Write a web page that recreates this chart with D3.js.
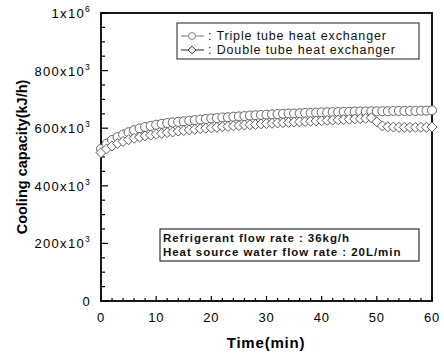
<!DOCTYPE html>
<html>
<head>
<meta charset="utf-8">
<script src="https://cdn.jsdelivr.net/npm/d3@7"></script>
<style>
  body { margin: 0; background: #fff; }
  svg { display: block; font-family: "Liberation Sans", Arial, sans-serif; }
</style>
</head>
<body>
<svg id="chart" width="444" height="355"></svg>
<script>
// minutes
const times = d3.range(0, 61);

// cooling capacity, x10^3 kJ/h
const tripleTube = [528, 546, 559, 569, 578, 586, 593, 599, 604, 608,
    612, 615, 618, 620, 622, 624, 626, 628, 630, 632,
    634, 635, 637, 638, 640, 641, 642, 644, 645, 646,
    647, 648, 649, 650, 651, 651, 652, 653, 653, 654,
    655, 655, 656, 656, 657, 657, 658, 658, 658, 659,
    659, 659, 659, 660, 660, 660, 660, 660, 661, 661, 662];

const doubleTube = [515, 528, 538, 547, 554, 560, 565, 569, 573, 576,
    579, 582, 585, 587, 590, 592, 594, 596, 598, 600,
    601, 603, 605, 606, 608, 609, 611, 612, 613, 615,
    616, 617, 618, 619, 620, 621, 622, 623, 624, 625,
    626, 627, 628, 629, 630, 631, 632, 633, 634, 636,
    622, 608, 605, 604, 603, 603, 603, 603, 603, 603, 604];

const xTicks = [0, 10, 20, 30, 40, 50, 60];
const yTicks = [0, 200, 400, 600, 800, 1000];
const yTickLabels = ["0", "200x10|3", "400x10|3", "600x10|3", "800x10|3", "1x10|6"];

const legendLabels = [": Triple tube heat exchanger", ": Double tube heat exchanger"];
const noteLines = ["Refrigerant flow rate : 36kg/h", "Heat source water flow rate : 20L/min"];

const svg = d3.select("#chart");
const mLeft = 101, mRight = 432, mTop = 13, mBottom = 301;

const x = d3.scaleLinear().domain([0, 60]).range([mLeft, mRight]);
const y = d3.scaleLinear().domain([0, 1000]).range([mBottom, mTop]);

// ticks (inward)
const tickG = svg.append("g").attr("stroke", "#000");
d3.range(0, 1001, 50).forEach(v => {
    const major = v % 200 === 0;
    tickG.append("line")
        .attr("x1", mLeft).attr("x2", mLeft + (major ? 7 : 4))
        .attr("y1", y(v)).attr("y2", y(v))
        .attr("stroke-width", 1.2);
});
d3.range(0, 61, 2).forEach(v => {
    const major = v % 10 === 0;
    tickG.append("line")
        .attr("x1", x(v)).attr("x2", x(v))
        .attr("y1", mBottom).attr("y2", mBottom - (major ? 5 : 3))
        .attr("stroke-width", 1.2);
});

// frame
svg.append("rect")
    .attr("x", mLeft).attr("y", mTop)
    .attr("width", mRight - mLeft).attr("height", mBottom - mTop)
    .attr("fill", "none").attr("stroke", "#000").attr("stroke-width", 1.8);

// y tick labels with superscripts
yTicks.forEach((v, i) => {
    const parts = yTickLabels[i].split("|");
    const t = svg.append("text")
        .attr("x", 91).attr("y", y(v) + 5)
        .attr("text-anchor", "end")
        .attr("font-size", 13).attr("letter-spacing", 1.3).attr("fill", "#000");
    t.append("tspan").text(parts[0]);
    if (parts[1]) {
        t.append("tspan").attr("dy", -6).attr("font-size", 8.5).text(parts[1]);
    }
});

// x tick labels
svg.append("g").selectAll("text")
    .data(xTicks)
    .join("text")
    .attr("x", d => x(d))
    .attr("y", 322)
    .attr("text-anchor", "middle")
    .attr("font-size", 13).attr("letter-spacing", 0.8).attr("fill", "#000")
    .text(d => d);

// axis titles
svg.append("text")
    .attr("x", 266).attr("y", 348)
    .attr("text-anchor", "middle")
    .attr("font-size", 15).attr("font-weight", "bold").attr("letter-spacing", 0.8)
    .text("Time(min)");

svg.append("text")
    .attr("transform", `translate(27,${(mTop + mBottom) / 2}) rotate(-90)`)
    .attr("text-anchor", "middle")
    .attr("font-size", 14.5).attr("font-weight", "bold")
    .text("Cooling capacity(kJ/h)");

// series
const line = d3.line().x((d, i) => x(times[i])).y(d => y(d));
const markerStroke = "#555";

function drawSeries(values, shape) {
    const g = svg.append("g");
    g.append("path").datum(values)
        .attr("d", line)
        .attr("fill", "none").attr("stroke", markerStroke).attr("stroke-width", 0.8);
    const sym = d3.symbol().type(shape).size(shape === d3.symbolCircle ? 64 : 50);
    g.selectAll("path.m")
        .data(values)
        .join("path")
        .attr("class", "m")
        .attr("transform", (d, i) => shape === d3.symbolCircle
            ? `translate(${x(times[i])},${y(d)})`
            : `translate(${x(times[i])},${y(d)}) rotate(45)`)
        .attr("d", sym)
        .attr("fill", "#fff")
        .attr("stroke", markerStroke)
        .attr("stroke-width", 0.9);
}
drawSeries(tripleTube, d3.symbolCircle);
drawSeries(doubleTube, d3.symbolSquare);

// legend
svg.append("rect")
    .attr("x", 177).attr("y", 23).attr("width", 242).attr("height", 36)
    .attr("fill", "#fff").attr("stroke", "#444").attr("stroke-width", 1.2);

legendLabels.forEach((label, i) => {
    const ly = 36 + i * 14;
    const col = i === 0 ? "#777" : "#222";
    svg.append("line")
        .attr("x1", 181).attr("x2", 204).attr("y1", ly).attr("y2", ly)
        .attr("stroke", col).attr("stroke-width", 1);
    const shape = i === 0 ? d3.symbolCircle : d3.symbolSquare;
    svg.append("path")
        .attr("transform", i === 0 ? `translate(192,${ly})` : `translate(192,${ly}) rotate(45)`)
        .attr("d", d3.symbol().type(shape).size(i === 0 ? 38 : 30))
        .attr("fill", "#fff").attr("stroke", col).attr("stroke-width", 0.9);
    svg.append("text")
        .attr("x", 208).attr("y", ly + 4)
        .attr("font-size", 12.5).attr("letter-spacing", 0.85).attr("fill", "#111")
        .text(label);
});

// conditions box
svg.append("rect")
    .attr("x", 160).attr("y", 229).attr("width", 259).attr("height", 32)
    .attr("fill", "#fff").attr("stroke", "#333").attr("stroke-width", 1.2);

noteLines.forEach((t, i) => {
    svg.append("text")
        .attr("x", 163).attr("y", 242 + i * 14)
        .attr("font-size", 11.5).attr("font-weight", "bold").attr("letter-spacing", 0.95)
        .attr("fill", "#111")
        .text(t);
});
</script>
</body>
</html>
